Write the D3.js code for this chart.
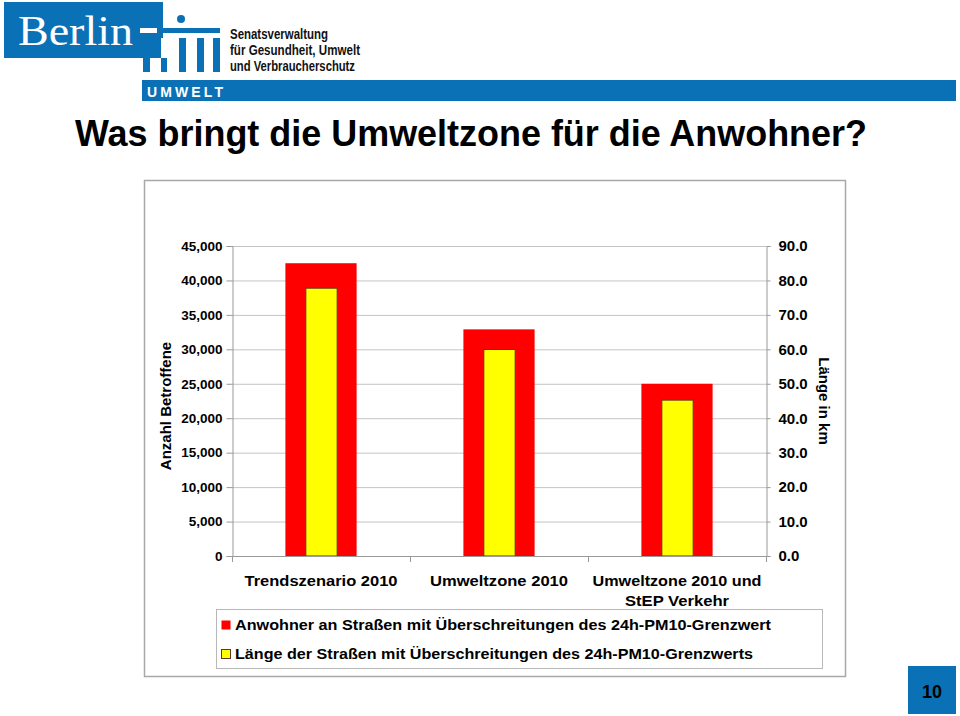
<!DOCTYPE html>
<html><head><meta charset="utf-8">
<script src="https://cdn.jsdelivr.net/npm/d3@7"></script>
<style>
html,body{margin:0;padding:0;background:#fff;}
svg{display:block;font-family:"Liberation Sans",Arial,Helvetica,sans-serif;}
</style>
</head><body>
<svg id="c" width="960" height="716"></svg>
<script>
// ---- data ----
const categories = ["Trendszenario 2010", "Umweltzone 2010", "Umweltzone 2010 und StEP Verkehr"];
const categoryLines = [["Trendszenario 2010"], ["Umweltzone 2010"], ["Umweltzone 2010 und", "StEP Verkehr"]];
const anwohner = [42500, 32900, 25000];       // Anzahl Betroffene (left axis)
const laenge = [77.9, 60.1, 45.4];            // Länge in km (right axis)
const leftTicks = [0, 5000, 10000, 15000, 20000, 25000, 30000, 35000, 40000, 45000];
const rightTicks = [0, 10, 20, 30, 40, 50, 60, 70, 80, 90];
const seriesNames = ["Anwohner an Straßen mit Überschreitungen des 24h-PM10-Grenzwert",
                     "Länge der Straßen mit Überschreitungen des 24h-PM10-Grenzwerts"];
const title = "Was bringt die Umweltzone für die Anwohner?";

const svg = d3.select("#c");
const BLUE = "#0b71b6";

// ---- header / logo ----
const logo = svg.append("g");
logo.append("rect").attr("x", 4).attr("y", 2).attr("width", 159).attr("height", 56).attr("fill", BLUE);
logo.append("text").attr("x", 18).attr("y", 45).attr("fill", "#fff")
  .attr("font-family", "'Liberation Serif','DejaVu Serif',serif").attr("font-size", 42)
  .attr("textLength", 115).attr("lengthAdjust", "spacingAndGlyphs").text("Berlin");
// gate
logo.append("rect").attr("x", 157).attr("y", 28).attr("width", 63).attr("height", 5).attr("fill", BLUE);
logo.append("rect").attr("x", 140).attr("y", 28).attr("width", 17).attr("height", 5).attr("fill", "#fff");
logo.append("circle").attr("cx", 181).attr("cy", 19).attr("r", 4).attr("fill", BLUE);
[[143,150],[161,167],[179,186],[197,204],[213,220]].forEach(([a,b]) => {
  logo.append("rect").attr("x", a).attr("y", 38).attr("width", b - a).attr("height", 34).attr("fill", BLUE);
});
logo.append("rect").attr("x", 140).attr("y", 38).attr("width", 23).attr("height", 20).attr("fill", BLUE);
[[161,167]].forEach(([a,b]) => {
  logo.append("rect").attr("x", a).attr("y", 38).attr("width", b - a).attr("height", 20).attr("fill", "#fff");
});
const orgLines = [["Senatsverwaltung", 39, 98], ["für Gesundheit, Umwelt", 55, 130], ["und Verbraucherschutz", 71, 125]];
orgLines.forEach(([t, y, w]) => {
  logo.append("text").attr("x", 230).attr("y", y).attr("font-size", 15).attr("font-weight", "bold")
    .attr("fill", "#111").attr("textLength", w).attr("lengthAdjust", "spacingAndGlyphs").text(t);
});
logo.append("rect").attr("x", 142).attr("y", 80).attr("width", 814).attr("height", 21).attr("fill", BLUE);
logo.append("text").attr("x", 147).attr("y", 97).attr("font-size", 14).attr("font-weight", "bold")
  .attr("fill", "#fff").attr("textLength", 76).attr("lengthAdjust", "spacing").text("UMWELT");

// ---- title ----
svg.append("text").attr("x", 75).attr("y", 146).attr("font-size", 36).attr("font-weight", "bold")
  .attr("fill", "#000").attr("textLength", 792).attr("lengthAdjust", "spacingAndGlyphs").text(title);

// ---- chart frame ----
svg.append("rect").attr("x", 144.5).attr("y", 180.5).attr("width", 701).attr("height", 496)
  .attr("fill", "#fff").attr("stroke", "#a8a8a8").attr("stroke-width", 1.5);

const plot = {left: 232, right: 766, top: 246, bottom: 556};
const x = d3.scaleBand().domain(categories).range([plot.left, plot.right]).paddingInner(0.6).paddingOuter(0.3);
const yL = d3.scaleLinear().domain([0, 45000]).range([plot.bottom, plot.top]);
const yR = d3.scaleLinear().domain([0, 90]).range([plot.bottom, plot.top]);

// gridlines
svg.append("g").selectAll("line").data(leftTicks.filter(d => d > 0)).join("line")
  .attr("x1", plot.left).attr("x2", plot.right).attr("y1", d => yL(d) + 0.5).attr("y2", d => yL(d) + 0.5)
  .attr("stroke", "#c4c4c4").attr("stroke-width", 1);

// left axis
const axL = svg.append("g").attr("transform", `translate(${plot.left + 0.5},0)`)
  .call(d3.axisLeft(yL).tickValues(leftTicks).tickFormat(d3.format(",")).tickSize(6).tickPadding(4));
axL.select(".domain").attr("stroke", "#999");
axL.selectAll(".tick line").attr("stroke", "#999");
axL.selectAll(".tick text").attr("font-size", 13.5).attr("font-weight", "bold").attr("fill", "#000")
  .attr("font-family", "'Liberation Sans',Arial,sans-serif");

// right axis
const axR = svg.append("g").attr("transform", `translate(${plot.right + 0.5},0)`)
  .call(d3.axisRight(yR).tickValues(rightTicks).tickFormat(d3.format(".1f")).tickSize(4).tickPadding(8));
axR.select(".domain").attr("stroke", "#999");
axR.selectAll(".tick line").attr("stroke", "#999");
axR.selectAll(".tick text").attr("font-size", 15).attr("font-weight", "bold").attr("fill", "#000")
  .attr("font-family", "'Liberation Sans',Arial,sans-serif");

// bars
const bw = x.bandwidth();
svg.append("g").selectAll("rect").data(categories).join("rect")
  .attr("x", d => x(d)).attr("width", bw)
  .attr("y", (d, i) => yL(anwohner[i])).attr("height", (d, i) => plot.bottom - yL(anwohner[i]))
  .attr("fill", "#ff0000");
const yw = bw * 0.44;
svg.append("g").selectAll("rect").data(categories).join("rect")
  .attr("x", d => x(d) + (bw - yw) / 2 + 0.5).attr("width", yw)
  .attr("y", (d, i) => yR(laenge[i]) + 0.5).attr("height", (d, i) => plot.bottom - yR(laenge[i]) - 0.5)
  .attr("fill", "#ffff00").attr("stroke", "#5a3a20").attr("stroke-width", 1);

// bottom axis
const bx = svg.append("g");
bx.append("line").attr("x1", plot.left).attr("x2", plot.right).attr("y1", plot.bottom + 0.5).attr("y2", plot.bottom + 0.5)
  .attr("stroke", "#999");
const bounds = categories.map(d => x(d) - x.step() * x.paddingInner() / 2).concat([plot.right]);
bx.selectAll("line.t").data(bounds).join("line").attr("class", "t")
  .attr("x1", d => Math.round(d) + 0.5).attr("x2", d => Math.round(d) + 0.5)
  .attr("y1", plot.bottom).attr("y2", plot.bottom + 6).attr("stroke", "#999");
const catWidths = [[153], [138], [169, 104]];
categories.forEach((c, i) => {
  categoryLines[i].forEach((line, j) => {
    bx.append("text").attr("x", x(c) + bw / 2).attr("y", 586 + j * 20).attr("text-anchor", "middle")
      .attr("font-size", 15).attr("font-weight", "bold").attr("fill", "#000")
      .attr("textLength", catWidths[i][j]).attr("lengthAdjust", "spacingAndGlyphs").text(line);
  });
});

// axis titles
svg.append("text").attr("transform", `translate(171,${(plot.top + plot.bottom) / 2 + 5}) rotate(-90)`)
  .attr("text-anchor", "middle").attr("font-size", 15).attr("font-weight", "bold").text("Anzahl Betroffene");
svg.append("text").attr("transform", `translate(819,${(plot.top + plot.bottom) / 2}) rotate(90)`)
  .attr("text-anchor", "middle").attr("font-size", 15).attr("font-weight", "bold").text("Länge in km");

// legend
const lg = svg.append("g");
lg.append("rect").attr("x", 216.5).attr("y", 609.5).attr("width", 606).attr("height", 59)
  .attr("fill", "#fff").attr("stroke", "#b8b8b8").attr("stroke-width", 1);
const legColors = ["#ff0000", "#ffff00"];
const legStroke = ["none", "#5a3a20"];
const legWidths = [536, 518];
seriesNames.forEach((s, i) => {
  const yb = 630 + i * 29;
  lg.append("rect").attr("x", 221.5).attr("y", yb - 9.5).attr("width", 9).attr("height", 9)
    .attr("fill", legColors[i]).attr("stroke", legStroke[i]);
  lg.append("text").attr("x", 235).attr("y", yb).attr("font-size", 15).attr("font-weight", "bold")
    .attr("fill", "#000").attr("textLength", legWidths[i]).attr("lengthAdjust", "spacingAndGlyphs").text(s);
});

// page number
svg.append("rect").attr("x", 908).attr("y", 666).attr("width", 48).attr("height", 48).attr("fill", BLUE);
svg.append("text").attr("x", 932).attr("y", 698).attr("text-anchor", "middle").attr("font-size", 18)
  .attr("font-weight", "bold").attr("fill", "#000").text("10");
</script>
</body></html>
